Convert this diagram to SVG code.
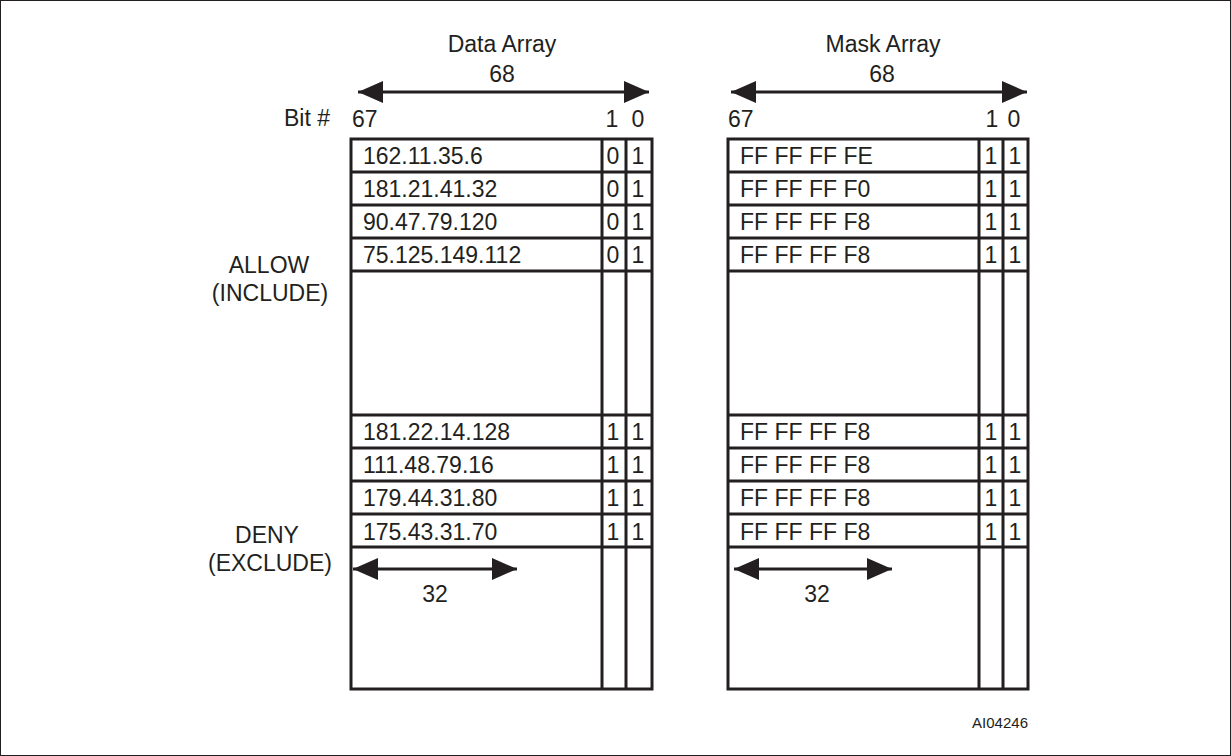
<svg xmlns="http://www.w3.org/2000/svg" width="1231" height="756" viewBox="0 0 1231 756">
<style>
text{font-family:"Liberation Sans",Arial,sans-serif;font-size:23px;fill:#231f20}
.m{text-anchor:middle}
.e{text-anchor:end}
.box{fill:#fff;stroke:#231f20;stroke-width:3}
.ln{stroke:#231f20;stroke-width:3;fill:none}
.arr{stroke:#231f20;stroke-width:3;fill:none;marker-start:url(#ah);marker-end:url(#ah)}
.small{font-size:15px}
</style>
<defs>
<marker id="ah" markerUnits="userSpaceOnUse" markerWidth="26" markerHeight="22" refX="25" refY="11" orient="auto-start-reverse">
<path d="M0,0 L25,11 L0,22 Z" fill="#231f20"/>
</marker>
</defs>
<rect x="0.5" y="0.5" width="1230" height="755" fill="#fff" stroke="#231f20" stroke-width="1"/>
<g id="labels">
<text class="e" x="330" y="126">Bit #</text>
<text class="m" x="269" y="273">ALLOW</text>
<text class="m" x="270" y="301">(INCLUDE)</text>
<text class="m" x="267" y="543">DENY</text>
<text class="m" x="270" y="571">(EXCLUDE)</text>
<text class="small e" x="1028" y="728">AI04246</text>
</g>
<g id="data-array">
<text class="m" x="502" y="52">Data Array</text>
<text class="m" x="502" y="82">68</text>
<text x="352" y="127">67</text>
<text class="m" x="612" y="127">1</text>
<text class="m" x="638" y="127">0</text>
<rect class="box" x="351" y="139" width="301" height="550"/>
<path class="ln" d="M602,139V689M626,139V689M351,172H652M351,205H652M351,238H652M351,271H652M351,415H652M351,448H652M351,481H652M351,514H652M351,547H652"/>
<text x="363" y="164">162.11.35.6</text><text class="m" x="613" y="164">0</text><text class="m" x="638" y="164">1</text>
<text x="363" y="197">181.21.41.32</text><text class="m" x="613" y="197">0</text><text class="m" x="638" y="197">1</text>
<text x="363" y="230">90.47.79.120</text><text class="m" x="613" y="230">0</text><text class="m" x="638" y="230">1</text>
<text x="363" y="263">75.125.149.112</text><text class="m" x="613" y="263">0</text><text class="m" x="638" y="263">1</text>
<text x="363" y="440">181.22.14.128</text><text class="m" x="613" y="440">1</text><text class="m" x="638" y="440">1</text>
<text x="363" y="473">111.48.79.16</text><text class="m" x="613" y="473">1</text><text class="m" x="638" y="473">1</text>
<text x="363" y="506">179.44.31.80</text><text class="m" x="613" y="506">1</text><text class="m" x="638" y="506">1</text>
<text x="363" y="540">175.43.31.70</text><text class="m" x="613" y="540">1</text><text class="m" x="638" y="540">1</text>
<text class="m" x="435" y="602">32</text>
</g>
<g id="mask-array">
<text class="m" x="883" y="52">Mask Array</text>
<text class="m" x="882" y="82">68</text>
<text x="728" y="127">67</text>
<text class="m" x="992" y="127">1</text>
<text class="m" x="1014" y="127">0</text>
<rect class="box" x="728" y="139" width="300" height="550"/>
<path class="ln" d="M979,139V689M1003,139V689M728,172H1028M728,205H1028M728,238H1028M728,271H1028M728,415H1028M728,448H1028M728,481H1028M728,514H1028M728,547H1028"/>
<text x="740" y="164">FF FF FF FE</text><text class="m" x="991" y="164">1</text><text class="m" x="1015" y="164">1</text>
<text x="740" y="197">FF FF FF F0</text><text class="m" x="991" y="197">1</text><text class="m" x="1015" y="197">1</text>
<text x="740" y="230">FF FF FF F8</text><text class="m" x="991" y="230">1</text><text class="m" x="1015" y="230">1</text>
<text x="740" y="263">FF FF FF F8</text><text class="m" x="991" y="263">1</text><text class="m" x="1015" y="263">1</text>
<text x="740" y="440">FF FF FF F8</text><text class="m" x="991" y="440">1</text><text class="m" x="1015" y="440">1</text>
<text x="740" y="473">FF FF FF F8</text><text class="m" x="991" y="473">1</text><text class="m" x="1015" y="473">1</text>
<text x="740" y="506">FF FF FF F8</text><text class="m" x="991" y="506">1</text><text class="m" x="1015" y="506">1</text>
<text x="740" y="540">FF FF FF F8</text><text class="m" x="991" y="540">1</text><text class="m" x="1015" y="540">1</text>
<text class="m" x="817" y="602">32</text>
</g>
<g id="connectors">
<line class="arr" x1="358" y1="92" x2="649" y2="92"/>
<line class="arr" x1="731" y1="92" x2="1027" y2="92"/>
<line class="arr" x1="353" y1="569" x2="517" y2="569"/>
<line class="arr" x1="734" y1="569" x2="892" y2="569"/>
</g>
</svg>
